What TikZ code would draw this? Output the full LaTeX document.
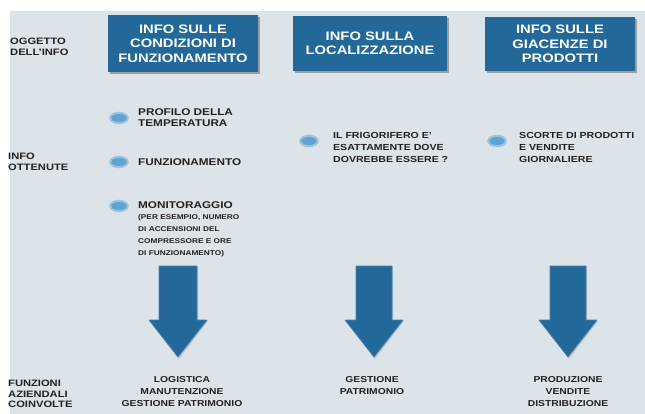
\documentclass[tikz,border=0pt]{standalone}
\usepackage{fontspec}
\setmainfont[FakeStretch=1.2]{Liberation Sans}
\usetikzlibrary{shadows,shapes.geometric}
\definecolor{panel}{HTML}{DCE3E9}
\definecolor{boxblue}{HTML}{22699A}
\definecolor{dotblue}{HTML}{5FA3D0}
\definecolor{inktext}{HTML}{222222}
\begin{document}
\begin{tikzpicture}[x=1pt,y=-1pt,
  header/.style={fill=boxblue, text=white, align=center, inner sep=0pt,
    font=\bfseries\fontsize{12.3}{14.3}\selectfont,
    general shadow={shadow xshift=2pt, shadow yshift=-2pt, fill=black!60, opacity=.55}},
  rowlabel/.style={anchor=west, align=left, inner sep=0pt, text=inktext,
    font=\bfseries\fontsize{9.3}{10.5}\selectfont},
  item/.style={anchor=west, align=left, inner sep=0pt, text=inktext,
    font=\bfseries\fontsize{8.8}{12}\selectfont},
  itemhead/.style={item, font=\bfseries\fontsize{9.8}{11}\selectfont},
  itemsub/.style={item, font=\bfseries\fontsize{6.9}{12.1}\selectfont},
  func/.style={align=center, inner sep=0pt, text=inktext,
    font=\bfseries\fontsize{8.6}{12}\selectfont},
  bullet/.style={fill=dotblue, draw=dotblue!50!panel, line width=2pt,
    ellipse, minimum width=17.5pt, minimum height=10.5pt, inner sep=0pt},
  fatarrow/.style={fill=boxblue, draw=boxblue!80!panel, line width=0.8pt, line join=round},
]
\useasboundingbox (0,0) rectangle (645,414);
\fill[white] (0,0) rectangle (645,414);
\fill[panel] (10,11) rectangle (645,414);

% row labels
\node[rowlabel] (lblObj) at (10,47) {OGGETTO\\DELL'INFO};
\node[rowlabel] (lblInfo) at (8,162) {INFO\\OTTENUTE};
\node[rowlabel] (lblFunc) at (8,394) {FUNZIONI\\AZIENDALI\\COINVOLTE};

% column headers
\node[header, minimum width=150pt, minimum height=57pt] (h1) at (183,43.5)
  {INFO SULLE\\CONDIZIONI DI\\FUNZIONAMENTO};
\node[header, minimum width=154pt, minimum height=55pt] (h2) at (370,43.5)
  {INFO SULLA\\LOCALIZZAZIONE};
\node[header, minimum width=150pt, minimum height=54pt] (h3) at (560,44)
  {INFO SULLE\\GIACENZE DI\\PRODOTTI};

% first column: operating conditions
\node[bullet] (b11) at (119,118) {};
\node[itemhead] (t11) at (138,117.5) {PROFILO DELLA\\TEMPERATURA};
\node[bullet] (b12) at (119,162) {};
\node[itemhead] (t12) at (138,162) {FUNZIONAMENTO};
\node[bullet] (b13) at (119,206) {};
\node[itemhead] (t13) at (138,205) {MONITORAGGIO};
\node[itemsub] (t13b) at (138,236)
  {(PER ESEMPIO, NUMERO\\DI ACCENSIONI DEL\\COMPRESSORE E ORE\\DI FUNZIONAMENTO)};

% second column: location
\node[bullet] (b21) at (309,141) {};
\node[item] (t21) at (333,147)
  {IL FRIGORIFERO E'\\ESATTAMENTE DOVE\\DOVREBBE ESSERE ?};

% third column: stock
\node[bullet] (b31) at (497,141) {};
\node[item] (t31) at (519,147)
  {SCORTE DI PRODOTTI\\E VENDITE\\GIORNALIERE};

% block arrows down to the business functions
\foreach \name/\cx/\hw/\sw in {a1/178/29/19, a2/374/29/18, a3/568/29/18}{
  \coordinate (\name top) at (\cx,266);
  \coordinate (\name tip) at (\cx,357);
  \fill[black!45, opacity=.35]
    ([xshift=-\sw pt+1pt, yshift=-1pt]\name top) -- ([xshift=\sw pt+1pt, yshift=-1pt]\name top)
    -- ([xshift=\sw pt+1pt, yshift=-55pt]\name top) -- ([xshift=\hw pt+1pt, yshift=-55pt]\name top)
    -- ([xshift=1pt, yshift=-2pt]\name tip) -- ([xshift=-\hw pt+1pt, yshift=-55pt]\name top)
    -- ([xshift=-\sw pt+1pt, yshift=-55pt]\name top) -- cycle;
  \filldraw[fatarrow]
    ([xshift=-\sw pt]\name top) -- ([xshift=\sw pt]\name top)
    -- ([xshift=\sw pt, yshift=-54pt]\name top) -- ([xshift=\hw pt, yshift=-54pt]\name top)
    -- (\name tip) -- ([xshift=-\hw pt, yshift=-54pt]\name top)
    -- ([xshift=-\sw pt, yshift=-54pt]\name top) -- cycle;
}

% business functions involved
\node[func, anchor=north] (f1) at (182,376.5) {LOGISTICA\\MANUTENZIONE\\GESTIONE PATRIMONIO};
\node[func, anchor=north] (f2) at (372,376.5) {GESTIONE\\PATRIMONIO};
\node[func, anchor=north] (f3) at (568,376.5) {PRODUZIONE\\VENDITE\\DISTRIBUZIONE};
\end{tikzpicture}
\end{document}
